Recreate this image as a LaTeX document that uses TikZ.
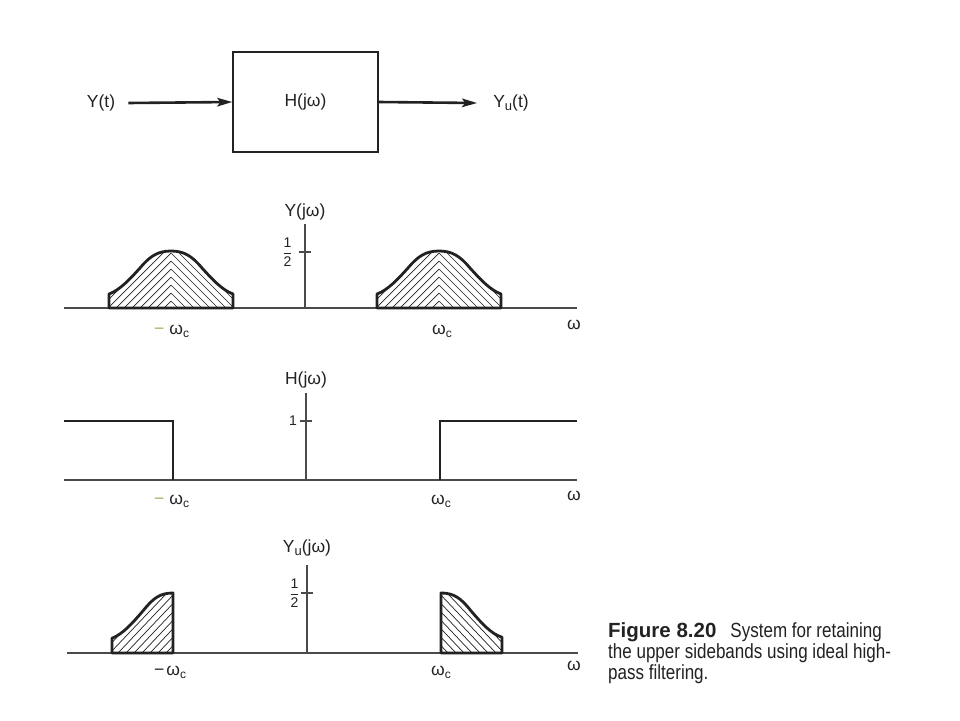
\documentclass[tikz,border=0pt]{standalone}
\usepackage{fontspec}
\setmainfont{Liberation Sans}
\newfontfamily\capfont[FakeStretch=0.83]{Liberation Sans}
\usetikzlibrary{arrows.meta}
\definecolor{ink}{HTML}{222222}
\definecolor{axisgray}{HTML}{4A4A4A}
\definecolor{dashtint}{HTML}{A9AE5C}
\newcommand{\halffrac}{$\displaystyle\frac{\hbox{1}}{\hbox{2}}$}
\newcommand{\sbc}{\raisebox{-3.5pt}{\fontsize{12}{12}\selectfont c}}
\begin{document}
\begin{tikzpicture}[x=1pt,y=-1pt,
  lbl/.style={font=\fontsize{17.5}{19}\selectfont, text=ink, inner sep=0pt},
  fraclbl/.style={font=\fontsize{14}{15}\selectfont, text=ink, inner sep=0pt},
  caplbl/.style={font=\fontsize{20.5}{21}\capfont, text=ink, inner sep=0pt, anchor=base west},
  axisline/.style={draw=axisgray, line width=1.1pt},
  hump/.style={draw=ink, line width=2.8pt, line join=round},
  hatchline/.style={draw=ink, line width=0.7pt},
  hresp/.style={draw=ink, line width=2.6pt, line join=miter},
  sig/.style={draw=ink, line width=2.6pt, -{Stealth[length=15pt,width=8.5pt,inset=3pt]}},
  blk/.style={draw=ink, line width=1.4pt, minimum width=145pt, minimum height=100pt, inner sep=0pt, font=\fontsize{17.5}{19}\selectfont, text=ink}
]
\path[fill=white] (0,0) rectangle (960,720);
\useasboundingbox (0,0) rectangle (960,720);

% ---------- block diagram ----------
\node[blk] (H) at (305.5,102) {H(jω)};
\node[lbl] (yin) at (101,103) {Y(t)};
\node[lbl] (yout) at (511,103) {Y\raisebox{-3pt}{\fontsize{13}{13}\selectfont u}(t)};
\draw[sig] ([xshift=13pt]yin.east) -- (H.west);
\draw[sig] (H.east) -- ([xshift=-16pt]yout.west);

% ---------- panel 1 : Y(jw) ----------
\coordinate (a1l) at (64,308);  \coordinate (a1r) at (577,308);
\coordinate (v1t) at (305,224); \coordinate (v1b) at (305,308);
\coordinate (t1) at (305,252);
\draw[axisline] (a1l) -- (a1r);
\draw[axisline] (v1b) -- (v1t);
\draw[axisline] ([xshift=-6pt]t1) -- ([xshift=6pt]t1);

\foreach \cx in {171,439}{
\begin{scope}[shift={(\cx,308)}]
  \begin{scope}
    \clip (-62,0) -- (-62,-14) .. controls (-51,-18) and (-41,-29) .. (-31,-40)
      .. controls (-21,-52) and (-13,-57) .. (0,-57)
      .. controls (13,-57) and (21,-52) .. (31,-40)
      .. controls (41,-29) and (51,-18) .. (62,-14) -- (62,0) -- cycle;
    \foreach \k in {-7,-15,...,-135}{
      \draw[hatchline] (0,\k) -- ++(-140,140) (0,\k) -- ++(140,140);
    }
  \end{scope}
  \draw[hump] (-62,0) -- (-62,-14) .. controls (-51,-18) and (-41,-29) .. (-31,-40)
      .. controls (-21,-52) and (-13,-57) .. (0,-57)
      .. controls (13,-57) and (21,-52) .. (31,-40)
      .. controls (41,-29) and (51,-18) .. (62,-14) -- (62,0) -- cycle;
\end{scope}
}

\node[lbl] (Y1) at (305,212) {Y(jω)};
\node[fraclbl] (half1) at (287.5,252) {\halffrac};
\node[lbl, anchor=base west] (mwc1) at (154,334) {\textcolor{dashtint}{−}\hspace{5pt}ω\sbc};
\node[lbl, anchor=base west] (wc1) at (432,334) {ω\sbc};
\node[lbl, anchor=base] (w1) at (574,329.5) {ω};

% ---------- panel 2 : H(jw) ----------
\coordinate (a2l) at (64,480);  \coordinate (a2r) at (577,480);
\coordinate (v2t) at (306,393); \coordinate (v2b) at (306,480);
\coordinate (t2) at (306,421);
\draw[axisline] (a2l) -- (a2r);
\draw[axisline] (v2b) -- (v2t);
\draw[axisline] ([xshift=-6pt]t2) -- ([xshift=6pt]t2);
\coordinate (h2a) at (64,421); \coordinate (h2b) at (173,421); \coordinate (h2c) at (173,480);
\coordinate (h2d) at (440,480); \coordinate (h2e) at (440,421); \coordinate (h2f) at (577,421);
\draw[hresp] (h2a) -- (h2b) -- (h2c);
\draw[hresp] (h2d) -- (h2e) -- (h2f);

\node[lbl] (H2) at (306,380) {H(jω)};
\node[fraclbl] (one2) at (293,421) {1};
\node[lbl, anchor=base west] (mwc2) at (154,504) {\textcolor{dashtint}{−}\hspace{5pt}ω\sbc};
\node[lbl, anchor=base west] (wc2) at (431,504) {ω\sbc};
\node[lbl, anchor=base] (w2) at (574,500) {ω};

% ---------- panel 3 : Yu(jw) ----------
\coordinate (a3l) at (67,653);  \coordinate (a3r) at (578,653);
\coordinate (v3t) at (307,565); \coordinate (v3b) at (307,653);
\coordinate (t3) at (307,593);
\draw[axisline] (a3l) -- (a3r);
\draw[axisline] (v3b) -- (v3t);
\draw[axisline] ([xshift=-6pt]t3) -- ([xshift=6pt]t3);

\begin{scope}[shift={(173,653)}, yscale=1.053]
  \begin{scope}
    \clip (-61,0) -- (-61,-14) .. controls (-50,-18) and (-40,-29) .. (-30,-40)
      .. controls (-20,-52) and (-13,-57) .. (0,-57) -- (0,0) -- cycle;
    \foreach \k in {-7,-15,...,-135}{
      \draw[hatchline] (0,\k) -- ++(-140,140);
    }
  \end{scope}
  \draw[hump] (-61,0) -- (-61,-14) .. controls (-50,-18) and (-40,-29) .. (-30,-40)
      .. controls (-20,-52) and (-13,-57) .. (0,-57) -- (0,0) -- cycle;
\end{scope}

\begin{scope}[shift={(441,653)}, yscale=1.053]
  \begin{scope}
    \clip (0,0) -- (0,-57) .. controls (13,-57) and (20,-52) .. (30,-40)
      .. controls (40,-29) and (50,-18) .. (61,-15) -- (61,0) -- cycle;
    \foreach \k in {-7,-15,...,-135}{
      \draw[hatchline] (0,\k) -- ++(140,140);
    }
  \end{scope}
  \draw[hump] (0,0) -- (0,-57) .. controls (13,-57) and (20,-52) .. (30,-40)
      .. controls (40,-29) and (50,-18) .. (61,-15) -- (61,0) -- cycle;
\end{scope}

\node[lbl] (Y3) at (307,548) {Y\raisebox{-3pt}{\fontsize{13}{13}\selectfont u}(jω)};
\node[fraclbl] (half3) at (294.5,593) {\halffrac};
\node[lbl, anchor=base west] (mwc3) at (154,675) {−\hspace{2pt}ω\sbc};
\node[lbl, anchor=base west] (wc3) at (431,675) {ω\sbc};
\node[lbl, anchor=base] (w3) at (574,670) {ω};

% ---------- caption ----------
\node[caplbl] (cap1) at (608,637) {{\fontsize{20.5}{21}\selectfont\rmfamily\bfseries Figure 8.20}\hspace{14pt}System for retaining};
\node[caplbl] (cap2) at (608,658) {the upper sidebands using ideal high-};
\node[caplbl] (cap3) at (608,679) {pass filtering.};
\end{tikzpicture}
\end{document}
